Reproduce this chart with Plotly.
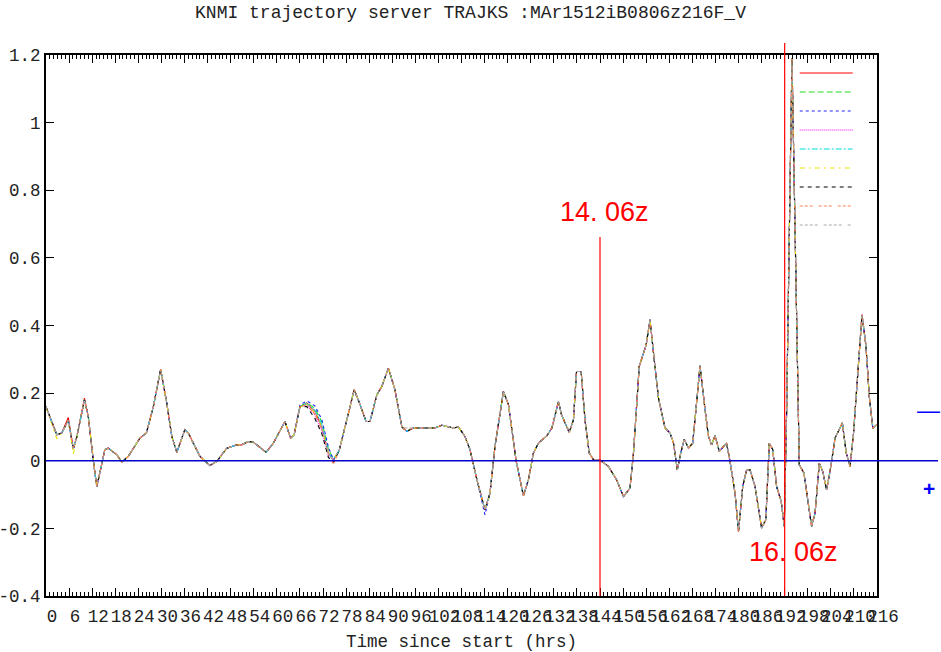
import plotly.graph_objects as go

# ---------------- data ----------------
hours = [0, 2.8, 4.1, 5.8, 7.1, 8, 10, 11, 12.3, 13.2, 15.3, 16.2, 18.4, 19.7, 21.4,
         24.4, 26.1, 27.9, 29.8, 31.4, 32.7, 34, 36.1, 37, 40, 42.6, 44.4, 47, 49.6,
         50.9, 52.6, 53.9, 57.2, 59.1, 62.1, 63.6, 64.5, 66, 67.8, 69.9, 71.7, 73.4,
         74.7, 76.2, 78.6, 80.1, 81.5, 83.2, 84.2, 86, 87.3, 89, 90.7, 92.5, 93.8,
         95.5, 98.9, 101.1, 102.9, 104.6, 105.9, 107.2, 108.9, 110.2, 112, 114.1,
         115.4, 116.7, 118.9, 120.2, 122.2, 124.1, 125.4, 126.7, 128, 130.2, 131.5,
         133.2, 134, 136, 137.1, 137.9, 139.1, 140.1, 141.2, 142.3, 144, 146.2, 148.3,
         150.1, 151.8, 152.7, 153.5, 154.2, 156, 157, 158, 159.2, 160.9, 162.2, 163.1,
         164.1, 165, 165.9, 167, 168.1, 169.1, 170, 171.3, 172.2, 173, 173.9, 175,
         176.9, 177.8, 179.1, 180, 181.1, 182.1, 183, 184.3, 186, 187.1, 188, 188.9,
         189.9, 191.1, 191.9, 192.5, 193.9, 195.8, 197, 199, 199.9, 201, 201.9, 202.9,
         204, 205.1, 207, 208, 209, 209.9, 210.9, 212.1, 213.1, 214, 214.9, 216]

base_values = [0.16, 0.077, 0.082, 0.12, 0.035, 0.07, 0.18, 0.13, 0.0, -0.077, 0.033, 0.037,
               0.018, -0.004, 0.013, 0.067, 0.082, 0.16, 0.27, 0.17, 0.072, 0.025, 0.092,
               0.082, 0.013, -0.014, -0.002, 0.037, 0.047, 0.047, 0.057, 0.055, 0.025,
               0.052, 0.116, 0.067, 0.077, 0.16, 0.17, 0.146, 0.10, 0.023, 0.003, 0.03,
               0.14, 0.21, 0.17, 0.116, 0.116, 0.195, 0.22, 0.274, 0.21, 0.10, 0.087,
               0.097, 0.097, 0.097, 0.105, 0.10, 0.097, 0.10, 0.072, 0.033, -0.056,
               -0.145, -0.096, 0.042, 0.205, 0.166, 0.0, -0.104, -0.056, 0.023, 0.052,
               0.074, 0.097, 0.175, 0.136, 0.084, 0.121, 0.264, 0.264, 0.121, 0.023,
               0.003, 0.002, -0.017, -0.056, -0.106, -0.081, 0.023, 0.161, 0.279, 0.343,
               0.417, 0.309, 0.185, 0.097, 0.082, 0.052, -0.027, 0.023, 0.064, 0.037,
               0.052, 0.171, 0.281, 0.151, 0.072, 0.047, 0.074, 0.028, 0.052, -0.002,
               -0.096, -0.209, -0.076, -0.027, -0.027, -0.076, -0.199, -0.175, 0.052,
               0.033, -0.076, -0.12, -0.194, 0.14, 1.19, -0.012, -0.036, -0.194, -0.155,
               -0.007, -0.032, -0.086, -0.017, 0.067, 0.112, 0.023, -0.017, 0.082, 0.25,
               0.432, 0.343, 0.19, 0.097, 0.107]

# visible departures of single ensemble members from the common curve (hour -> value)
member_departures = {
    0: {5.8: 0.128, 10: 0.185},
    1: {67.8: 0.172, 69.9: 0.155, 71.7: 0.115, 73.4: 0.035},
    2: {66: 0.165, 67.8: 0.177, 69.9: 0.162, 71.7: 0.122, 73.4: 0.04, 113.9: -0.16},
    3: {67.8: 0.165, 69.9: 0.135, 71.7: 0.09, 73.4: 0.015},
    4: {67.8: 0.168, 69.9: 0.15, 71.7: 0.108},
    5: {2.8: 0.065, 7.1: 0.02, 67.8: 0.166, 69.9: 0.142},
    6: {67.8: 0.16, 69.9: 0.125, 71.7: 0.08, 73.4: 0.01, 74.7: -0.005},
    7: {67.8: 0.165, 69.9: 0.138, 71.7: 0.092, 74.7: -0.01},
    8: {93.8: 0.097, 95.5: 0.097},
}

member_colors = ["#ff0000", "#22dd22", "#2222ff", "#ff00ff", "#00dddd",
                 "#e6e600", "#000000", "#ff7f50", "#a8a8a8"]
member_dashes = ["solid", "6px,3px", "3px,3px", "1px,1px", "6px,2px,2px,2px",
                 "5px,4px,2px,4px", "4px,4px", "3px,2px,3px,2px,3px,6px",
                 "3px,2px,3px,2px,3px,2px,3px,6px"]

x_tick_values = list(range(0, 217, 6))
y_tick_values = [-0.4, -0.2, 0, 0.2, 0.4, 0.6, 0.8, 1, 1.2]
y_tick_labels = ["-0.4", "-0.2", "0", "0.2", "0.4", "0.6", "0.8", "1", "1.2"]

marker_hours = [144, 192]
marker_labels = ["14. 06z", "16. 06z"]

title_text = "KNMI trajectory server TRAJKS :MAr1512iB0806z216F_V"
x_title = "Time since start (hrs)"

MONO = "Liberation Mono, Courier New, monospace"

# ---------------- figure ----------------
fig = go.Figure()
for i, (col, dash) in enumerate(zip(member_colors, member_dashes)):
    vals = list(base_values)
    for h, v in member_departures.get(i, {}).items():
        k = min(range(len(hours)), key=lambda j: abs(hours[j] - h))
        vals[k] = v
    fig.add_trace(go.Scatter(
        x=hours, y=vals, mode="lines", name=" ",
        line=dict(color=col, width=1.1, dash=dash),
        showlegend=True, hoverinfo="skip",
    ))

# zero line extending beyond the right axis
fig.add_shape(type="line", xref="paper", yref="y", x0=0, x1=1.0734, y0=0, y1=0,
              line=dict(color="#0000cc", width=1.5), layer="above")

# time markers
fig.add_shape(type="line", xref="x", yref="paper", x0=marker_hours[0], x1=marker_hours[0],
              y0=0, y1=0.6636, line=dict(color="#ff0000", width=1.2), layer="above")
fig.add_shape(type="line", xref="x", yref="paper", x0=marker_hours[1], x1=marker_hours[1],
              y0=0, y1=1.022, line=dict(color="#ff0000", width=1.2), layer="above")

fig.add_annotation(x=145.1, xref="x", y=0.71, yref="paper", text=marker_labels[0],
                   showarrow=False, font=dict(family="Liberation Sans, Arial", size=27, color="#ff0000"),
                   xanchor="center", yanchor="middle")
fig.add_annotation(x=194.2, xref="x", y=0.081, yref="paper", text=marker_labels[1],
                   showarrow=False, font=dict(family="Liberation Sans, Arial", size=27, color="#ff0000"),
                   xanchor="center", yanchor="middle")

# +/- signs on the right
fig.add_annotation(x=1.0625, xref="paper", y=0.151, yref="y", text="—", showarrow=False,
                   font=dict(family="Liberation Sans, Arial", size=23, color="#0000ff"),
                   xanchor="center", yanchor="middle")
fig.add_annotation(x=1.0625, xref="paper", y=-0.083, yref="y", text="<b>+</b>", showarrow=False,
                   font=dict(family="Liberation Sans, Arial", size=21, color="#0000ff"),
                   xanchor="center", yanchor="middle")

fig.update_layout(
    width=941, height=652,
    margin=dict(l=46, r=64, t=55, b=56, autoexpand=False),
    paper_bgcolor="white", plot_bgcolor="white",
    title=dict(text=title_text, x=0.5, xanchor="center", y=1 - 12 / 652, yanchor="middle",
               font=dict(family=MONO, size=18, color="#222222")),
    showlegend=True,
    legend=dict(x=0.901, y=0.9936, xanchor="left", yanchor="top", bgcolor="rgba(0,0,0,0)",
                font=dict(size=12), itemwidth=53, tracegroupgap=0),
    xaxis=dict(range=[0, 216], tickmode="array", tickvals=x_tick_values, automargin=False,
               ticks="inside", ticklen=8, tickwidth=1, tickcolor="#000000",
               showline=True, linecolor="#000000", linewidth=2, mirror="allticks",
               showgrid=False, zeroline=False, tickangle=0, ticklabelshift=6,
               ticklabelstandoff=3,
               tickfont=dict(family=MONO, size=17.5, color="#222222"),
               minor=dict(dtick=1, ticks="inside", ticklen=4, tickcolor="#000000", showgrid=False),
               title=dict(text=x_title, font=dict(family=MONO, size=17.5, color="#222222"), standoff=10)),
    yaxis=dict(range=[-0.4, 1.2], tickmode="array", tickvals=y_tick_values, ticktext=y_tick_labels,
               automargin=False,
               ticks="inside", ticklen=8, tickwidth=1, tickcolor="#000000",
               showline=True, linecolor="#000000", linewidth=2, mirror="allticks",
               showgrid=False, zeroline=False,
               tickfont=dict(family=MONO, size=17.5, color="#222222")),
)

fig.write_html("out.html", config={"displayModeBar": False},
               post_script="document.body.style.margin='0px';document.body.style.overflow='hidden';")
